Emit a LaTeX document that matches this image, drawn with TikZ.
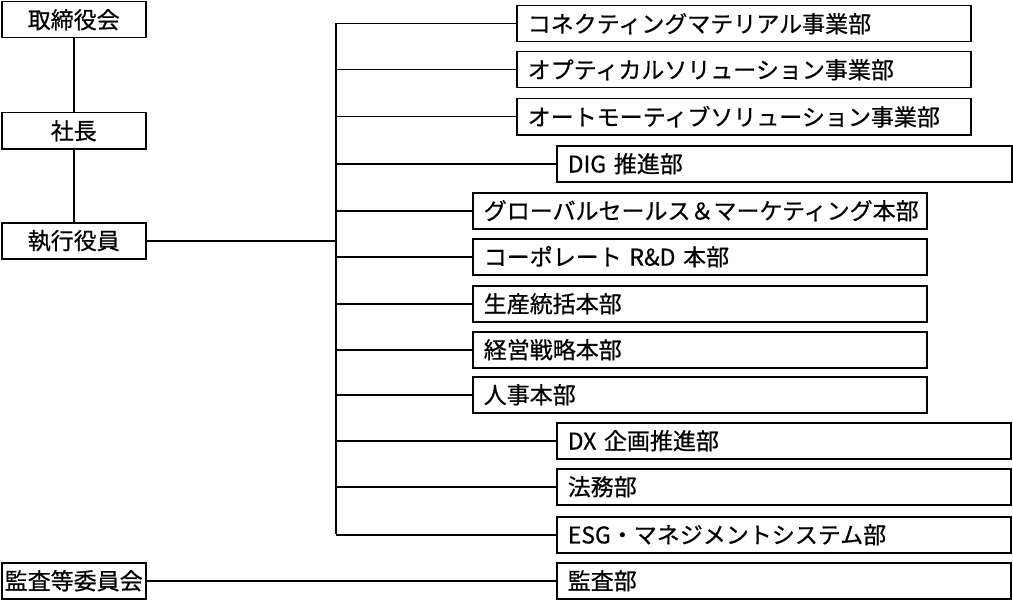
\documentclass[tikz,border=0pt]{standalone}
\usepackage{fontspec}
\newfontfamily\jpfont[FakeBold=0.6]{Noto Sans CJK JP}
\usetikzlibrary{positioning, calc}
\tikzset{
  topbox/.style={rectangle, draw=black, line width=1.5pt, fill=white,
              text width=141pt, align=center, anchor=north west,
              minimum height=36pt, inner xsep=1.5pt, inner ysep=0pt},
  deptbox/.style={rectangle, draw=black, line width=1.5pt, fill=white,
              text width=#1, align=left, anchor=north west,
              minimum height=36pt, inner xsep=11pt, inner ysep=0pt},
  deptbox/.default=432pt,
  link/.style={line width=1.5pt, color=black},
}
\begin{document}
\begin{tikzpicture}[x=1pt, y=-1pt, font=\jpfont\fontsize{23}{25}\selectfont]
  \useasboundingbox (0,0) rectangle (1013,602);
  % Left column
  \node[topbox] (board) at (1,1) {取締役会};
  \node[topbox] (ceo) at (1,112) {社長};
  \node[topbox] (exec) at (1,222) {執行役員};
  \node[topbox] (auditcom) at (1,562) {監査等委員会};
  % Right column
  \node[deptbox] (cm) at (516,5) {コネクティングマテリアル事業部};
  \node[deptbox] (os) at (516,51) {オプティカルソリューション事業部};
  \node[deptbox] (as) at (516,98) {オートモーティブソリューション事業部};
  \node[deptbox=433pt] (dig) at (556,145) {DIG 推進部};
  \node[deptbox] (gsm) at (472,192) {グローバルセールス＆マーケティング本部};
  \node[deptbox] (crd) at (472,238) {コーポレート R\&D 本部};
  \node[deptbox] (prod) at (472,285) {生産統括本部};
  \node[deptbox] (strat) at (472,331) {経営戦略本部};
  \node[deptbox] (hr) at (472,376) {人事本部};
  \node[deptbox] (dx) at (556,422) {DX 企画推進部};
  \node[deptbox] (legal) at (556,468) {法務部};
  \node[deptbox] (esg) at (556,516) {ESG・マネジメントシステム部};
  \node[deptbox] (audit) at (556,562) {監査部};
  % Trunk
  \coordinate (trunktop) at (336,23);
  \coordinate (trunkbot) at (336,534);
  \draw[link] (board) -- (ceo);
  \draw[link] (ceo) -- (exec);
  \draw[link] (exec.east) -- (trunktop |- exec.east);
  \draw[link] (trunktop) -- (trunkbot);
  \foreach \d in {cm,os,as,dig,gsm,crd,prod,strat,hr,dx,legal,esg}{
    \draw[link] (trunktop |- \d.west) -- (\d.west);
  }
  \draw[link] (auditcom) -- (audit);
\end{tikzpicture}
\end{document}
